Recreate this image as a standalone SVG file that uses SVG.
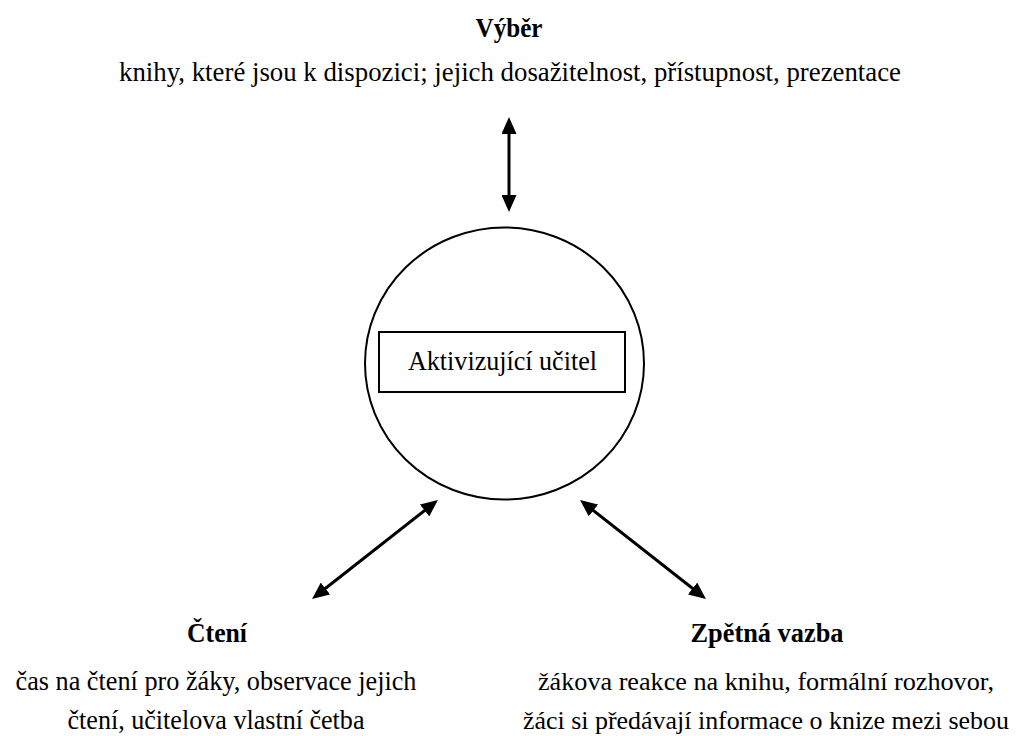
<svg xmlns="http://www.w3.org/2000/svg" width="1018" height="736" viewBox="0 0 1018 736">
  <style>
    .t { font-family: "Liberation Serif", "Times New Roman", serif; font-size: 28px; fill: #000; }
    .b { font-weight: bold; font-size: 27px; }
    .s { font-size: 26px; }
    .shape { fill: none; stroke: #000; stroke-width: 2; }
    .conn { stroke: #000; stroke-width: 3; fill: none; marker-start: url(#head); marker-end: url(#head); }
  </style>
  <defs>
    <marker id="head" markerUnits="userSpaceOnUse" markerWidth="17" markerHeight="15" refX="7" refY="7.5" orient="auto-start-reverse" viewBox="0 0 17 15">
      <path d="M0,0 L17,7.5 L0,15 Z" fill="#000"/>
    </marker>
  </defs>
  <rect width="1018" height="736" fill="#fff"/>

  <g id="vyber">
    <text class="t b" x="509" y="37" text-anchor="middle" textLength="67" lengthAdjust="spacingAndGlyphs">Výběr</text>
    <text class="t" x="510" y="81" text-anchor="middle" textLength="782" lengthAdjust="spacingAndGlyphs">knihy, které jsou k dispozici; jejich dosažitelnost, přístupnost, prezentace</text>
  </g>

  <g id="ucitel">
    <ellipse class="shape" cx="504.5" cy="363.5" rx="139.5" ry="136"/>
    <rect class="shape" x="379" y="332" width="246" height="60"/>
    <text class="t" x="502.5" y="370" text-anchor="middle" textLength="189" lengthAdjust="spacingAndGlyphs">Aktivizující učitel</text>
  </g>

  <g id="cteni">
    <text class="t b" x="217" y="642" text-anchor="middle" textLength="60" lengthAdjust="spacingAndGlyphs">Čtení</text>
    <text class="t" x="216" y="690" text-anchor="middle" textLength="401" lengthAdjust="spacingAndGlyphs">čas na čtení pro žáky, observace jejich</text>
    <text class="t" x="216" y="729" text-anchor="middle" textLength="297" lengthAdjust="spacingAndGlyphs">čtení, učitelova vlastní četba</text>
  </g>

  <g id="zpetna-vazba">
    <text class="t b" x="767" y="642" text-anchor="middle" textLength="153" lengthAdjust="spacingAndGlyphs">Zpětná vazba</text>
    <text class="t s" x="766" y="690" text-anchor="middle" textLength="456" lengthAdjust="spacingAndGlyphs">žákova reakce na knihu, formální rozhovor,</text>
    <text class="t s" x="766" y="729" text-anchor="middle" textLength="486" lengthAdjust="spacingAndGlyphs">žáci si předávají informace o knize mezi sebou</text>
  </g>

  <g id="connectors">
    <line class="conn" x1="509" y1="127" x2="509" y2="202"/>
    <line class="conn" x1="430.1" y1="506.2" x2="319.9" y2="592.8"/>
    <line class="conn" x1="587.9" y1="506.2" x2="698.1" y2="592.8"/>
  </g>
</svg>
